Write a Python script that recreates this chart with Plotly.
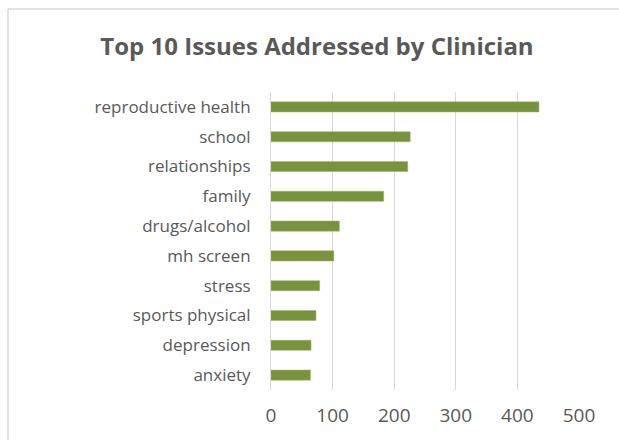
import plotly.graph_objects as go

issues = [
    "reproductive health", "school", "relationships", "family",
    "drugs/alcohol", "mh screen", "stress", "sports physical",
    "depression", "anxiety",
]
counts = [435, 226, 222, 183, 111, 102, 79, 73, 65, 64]
x_ticks = [0, 100, 200, 300, 400, 500]

W, H = 619, 440
L, R, T, B = 271, 40, 92, 50

fig = go.Figure(
    go.Bar(
        x=counts,
        y=issues,
        orientation="h",
        marker=dict(color="#77933C", line=dict(color="#9bb36a", width=0.5)),
        width=0.34,
    )
)

# light grey chart border: only its top and left edges fall inside the picture
pw, ph = W - L - R, H - T - B
left_x = (8 - L) / pw
top_y = ((H - B) - 9) / ph
fig.add_shape(type="line", xref="paper", yref="paper",
              x0=left_x, x1=(W - L) / pw, y0=top_y, y1=top_y,
              line=dict(color="#d9d9d9", width=1.5), layer="below")
fig.add_shape(type="line", xref="paper", yref="paper",
              x0=left_x, x1=left_x, y0=top_y, y1=-B / ph,
              line=dict(color="#d9d9d9", width=1.5), layer="below")

fig.update_layout(
    width=W, height=H,
    margin=dict(l=L, r=R, t=T, b=B),
    paper_bgcolor="white", plot_bgcolor="white",
    showlegend=False,
    title=dict(
        text="<b>Top 10 Issues Addressed by Clinician</b>",
        x=317 / W, xanchor="center", y=1 - 47 / H, yanchor="middle",
        font=dict(family="Open Sans", size=24, color="#595959"),
    ),
    xaxis=dict(
        range=[0, 500], tickvals=x_ticks, showgrid=True,
        gridcolor="#d9d9d9", gridwidth=1, zeroline=False,
        showline=False, ticks="",
        tickfont=dict(family="Open Sans", size=19, color="#595959"),
        ticklabelstandoff=12,
    ),
    yaxis=dict(
        autorange="reversed", showgrid=False, zeroline=False,
        showline=True, linecolor="#d9d9d9", linewidth=1, ticks="",
        tickfont=dict(family="Open Sans", size=17, color="#595959"),
        ticklabelstandoff=16,
    ),
    font=dict(family="Open Sans", color="#595959"),
)

fig.write_html(
    "out.html",
    config={"displayModeBar": False},
    post_script=(
        "document.documentElement.style.overflow='hidden';"
        "document.body.style.margin='0';document.body.style.overflow='hidden';"
    ),
)
